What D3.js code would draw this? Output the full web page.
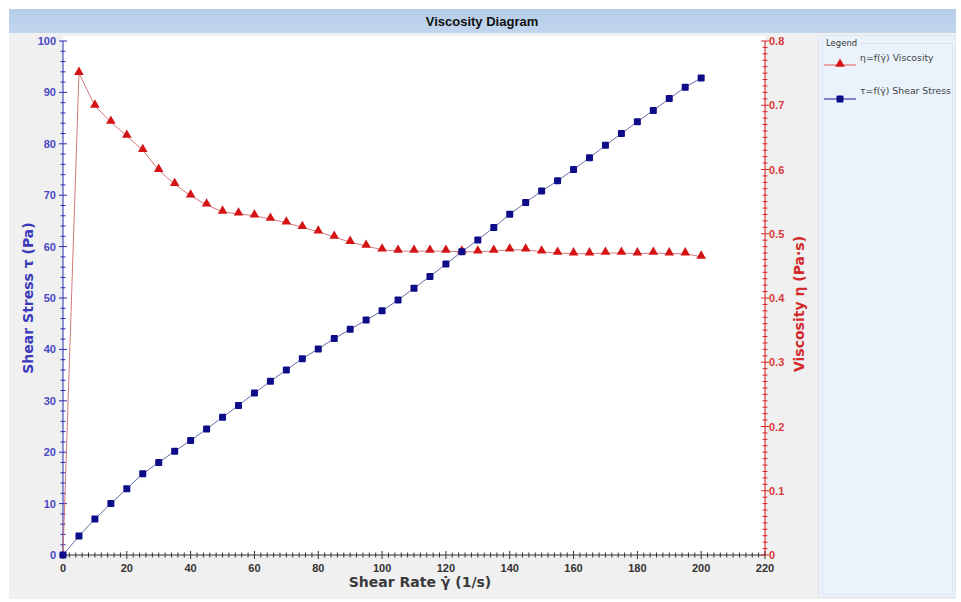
<!DOCTYPE html>
<html>
<head>
<meta charset="utf-8">
<script src="https://cdn.jsdelivr.net/npm/d3@7"></script>
<style>
  html, body { margin: 0; padding: 0; background: #ffffff; }
  svg { display: block; }
</style>
</head>
<body>
<svg id="chart" width="961" height="602"></svg>
<script>
// Shear rate steps (1/s)
const shearRate = [0, 5, 10, 15, 20, 25, 30, 35, 40, 45, 50, 55, 60, 65, 70, 75, 80, 85, 90, 95, 100,
  105, 110, 115, 120, 125, 130, 135, 140, 145, 150, 155, 160, 165, 170, 175, 180, 185, 190, 195, 200];

// Shear stress τ (Pa)
const shearStress = [0, 3.7, 7.0, 10.0, 12.9, 15.8, 18.0, 20.2, 22.3, 24.5, 26.8, 29.1, 31.5, 33.8, 36.0,
  38.2, 40.1, 42.1, 43.9, 45.7, 47.5, 49.6, 51.9, 54.2, 56.6, 59.0, 61.3, 63.7, 66.3, 68.6, 70.8,
  72.8, 75.0, 77.3, 79.7, 82.0, 84.3, 86.5, 88.8, 91.0, 92.8];

// Viscosity η (Pa·s)
const viscosity = [0, 0.750, 0.699, 0.674, 0.652, 0.630, 0.599, 0.577, 0.559, 0.545, 0.534, 0.531, 0.528,
  0.523, 0.517, 0.510, 0.503, 0.495, 0.487, 0.481, 0.475, 0.473, 0.473, 0.473, 0.473, 0.472, 0.472,
  0.473, 0.475, 0.475, 0.472, 0.470, 0.469, 0.469, 0.470, 0.470, 0.469, 0.470, 0.469, 0.469, 0.464];

const xTicks = [0, 20, 40, 60, 80, 100, 120, 140, 160, 180, 200, 220];
const stressTicks = [0, 10, 20, 30, 40, 50, 60, 70, 80, 90, 100];
const viscTicks = [0, 0.1, 0.2, 0.3, 0.4, 0.5, 0.6, 0.7, 0.8];

const titleText = "Viscosity Diagram";
const xTitle = "Shear Rate γ̇ (1/s)";
const yLeftTitle = "Shear Stress τ (Pa)";
const yRightTitle = "Viscosity η (Pa·s)";
const legendItems = ["η=f(γ̇) Viscosity", "τ=f(γ̇) Shear Stress"];

const svg = d3.select("#chart");
const plotL = 63, plotR = 765, plotT = 41, plotB = 555;

const x = d3.scaleLinear().domain([0, 220]).range([plotL, plotR]);
const yL = d3.scaleLinear().domain([0, 100]).range([plotB, plotT]);
const yR = d3.scaleLinear().domain([0, 0.8]).range([plotB, plotT]);

const blue = "#2b2bb0", navy = "#0d0d8a", red = "#d41414";

// panel background
svg.append("rect").attr("x", 9).attr("y", 9).attr("width", 947).attr("height", 590).attr("fill", "#f0f0f0");

// title bar
const grad = svg.append("defs").append("linearGradient").attr("id", "tb").attr("x1", 0).attr("y1", 0).attr("x2", 0).attr("y2", 1);
grad.append("stop").attr("offset", "0").attr("stop-color", "#b6cde9");
grad.append("stop").attr("offset", "1").attr("stop-color", "#c2d6ee");
svg.append("rect").attr("x", 9).attr("y", 9).attr("width", 947).attr("height", 24).attr("fill", "url(#tb)");
svg.append("text").attr("x", 482).attr("y", 26).attr("text-anchor", "middle")
  .attr("font-family", "Liberation Sans, Arial, sans-serif").attr("font-weight", "bold")
  .attr("font-size", 13).attr("fill", "#111").text(titleText);

// plot area
svg.append("rect").attr("x", plotL).attr("y", 36).attr("width", plotR - plotL).attr("height", plotB - 36).attr("fill", "#ffffff");

// legend panel with a group frame broken by its caption
svg.append("rect").attr("x", 818.5).attr("y", 35.5).attr("width", 137).attr("height", 562)
  .attr("fill", "#eaf3fc").attr("stroke", "#dfe6ee");
svg.append("path").attr("d", "M860,43.5 H952.5 V594.5 H822.5 V43.5 H824")
  .attr("fill", "none").attr("stroke", "#dde6f0");
svg.append("text").attr("x", 826).attr("y", 46).attr("font-family", "DejaVu Sans, sans-serif")
  .attr("font-size", 8.5).attr("fill", "#333").text("Legend");

// x axis
const tickFont = "Liberation Sans, Arial, sans-serif";
const xMinor = d3.range(0, 221, 2);
const gx = svg.append("g");
gx.append("line").attr("x1", plotL).attr("x2", plotR).attr("y1", plotB).attr("y2", plotB).attr("stroke", "#333");
gx.selectAll("line.mn").data(xMinor).join("line")
  .attr("x1", d => x(d)).attr("x2", d => x(d))
  .attr("y1", d => d % 20 === 0 ? plotB - 4 : plotB - 2.5)
  .attr("y2", d => d % 20 === 0 ? plotB + 4 : plotB + 2.5)
  .attr("stroke", "#333");
gx.selectAll("text").data(xTicks).join("text")
  .attr("x", d => x(d)).attr("y", plotB + 17).attr("text-anchor", "middle")
  .attr("font-family", tickFont).attr("font-weight", "bold").attr("font-size", 11).attr("fill", "#333")
  .text(d => d);

// left axis
const gl = svg.append("g");
gl.append("line").attr("x1", plotL).attr("x2", plotL).attr("y1", plotT).attr("y2", plotB).attr("stroke", blue);
gl.selectAll("line.mn").data(d3.range(0, 101, 2)).join("line")
  .attr("y1", d => yL(d)).attr("y2", d => yL(d))
  .attr("x1", d => d % 10 === 0 ? plotL - 4 : plotL - 2.5)
  .attr("x2", d => d % 10 === 0 ? plotL + 4 : plotL + 2.5)
  .attr("stroke", blue);
gl.selectAll("text").data(stressTicks).join("text")
  .attr("x", plotL - 7).attr("y", d => yL(d) + 4).attr("text-anchor", "end")
  .attr("font-family", tickFont).attr("font-weight", "bold").attr("font-size", 11).attr("fill", "#4848c4")
  .text(d => d);

// right axis
const gr = svg.append("g");
gr.append("line").attr("x1", plotR).attr("x2", plotR).attr("y1", plotT).attr("y2", plotB).attr("stroke", red);
gr.selectAll("line.mn").data(d3.range(0, 81, 1)).join("line")
  .attr("y1", d => yR(d / 100)).attr("y2", d => yR(d / 100))
  .attr("x1", d => d % 10 === 0 ? plotR - 4 : plotR - 2.5)
  .attr("x2", d => d % 10 === 0 ? plotR + 4 : plotR + 2.5)
  .attr("stroke", red).attr("stroke-width", 0.9);
gr.selectAll("text").data(viscTicks).join("text")
  .attr("x", plotR + 4).attr("y", d => yR(d) + 4).attr("text-anchor", "start")
  .attr("font-family", tickFont).attr("font-weight", "bold").attr("font-size", 11).attr("fill", "#d83a3a")
  .text(d => d3.format("")(d));

// axis titles
const titleFont = "DejaVu Sans, Verdana, sans-serif";
svg.append("text").attr("x", 420).attr("y", 587).attr("text-anchor", "middle")
  .attr("font-family", titleFont).attr("font-weight", "bold").attr("font-size", 14).attr("fill", "#3a3a3a")
  .text(xTitle);
svg.append("text").attr("transform", `translate(33,${(plotT + plotB) / 2}) rotate(-90)`).attr("text-anchor", "middle")
  .attr("font-family", titleFont).attr("font-weight", "bold").attr("font-size", 14).attr("fill", "#3a3ab8")
  .text(yLeftTitle);
svg.append("text").attr("transform", `translate(804,${(plotT + plotB) / 2 + 6}) rotate(-90)`).attr("text-anchor", "middle")
  .attr("font-family", titleFont).attr("font-weight", "bold").attr("font-size", 14).attr("fill", "#d42a2a")
  .text(yRightTitle);

// series
const stressData = shearRate.map((r, i) => [r, shearStress[i]]);
const viscData = shearRate.map((r, i) => [r, viscosity[i]]);

svg.append("path").datum(stressData)
  .attr("d", d3.line().x(d => x(d[0])).y(d => yL(d[1])))
  .attr("fill", "none").attr("stroke", "#6a6aa8").attr("stroke-width", 1);
svg.append("path").datum(viscData)
  .attr("d", d3.line().x(d => x(d[0])).y(d => yR(d[1])))
  .attr("fill", "none").attr("stroke", "#cc6a6a").attr("stroke-width", 0.9);

// viscosity markers (no marker at zero shear rate)
const tri = d3.symbol().type(d3.symbolTriangle).size(40);
svg.append("g").selectAll("path").data(viscData.filter(d => d[0] > 0)).join("path")
  .attr("transform", d => `translate(${x(d[0])},${yR(d[1]) - 1})`)
  .attr("d", tri).attr("fill", red);

svg.append("g").selectAll("rect").data(stressData).join("rect")
  .attr("x", d => x(d[0]) - 3.5).attr("y", d => yL(d[1]) - 3.5)
  .attr("width", 7).attr("height", 7).attr("rx", 1).attr("fill", navy);

// legend entries
const legendFont = "DejaVu Sans, sans-serif";
const lg = svg.append("g");
lg.append("line").attr("x1", 824).attr("x2", 856).attr("y1", 65).attr("y2", 65).attr("stroke", "#e07070").attr("stroke-width", 1.2);
lg.append("path").attr("transform", "translate(840,64)").attr("d", tri).attr("fill", red);
lg.append("text").attr("x", 860).attr("y", 61).attr("font-family", legendFont).attr("font-size", 9.3).attr("fill", "#444").text(legendItems[0]);
lg.append("line").attr("x1", 824).attr("x2", 856).attr("y1", 99).attr("y2", 99).attr("stroke", "#3a3aa8").attr("stroke-width", 1.2);
lg.append("rect").attr("x", 836.5).attr("y", 95.5).attr("width", 7).attr("height", 7).attr("rx", 1).attr("fill", navy);
lg.append("text").attr("x", 860).attr("y", 94).attr("font-family", legendFont).attr("font-size", 9.3).attr("fill", "#444").text(legendItems[1]);
</script>
</body>
</html>
